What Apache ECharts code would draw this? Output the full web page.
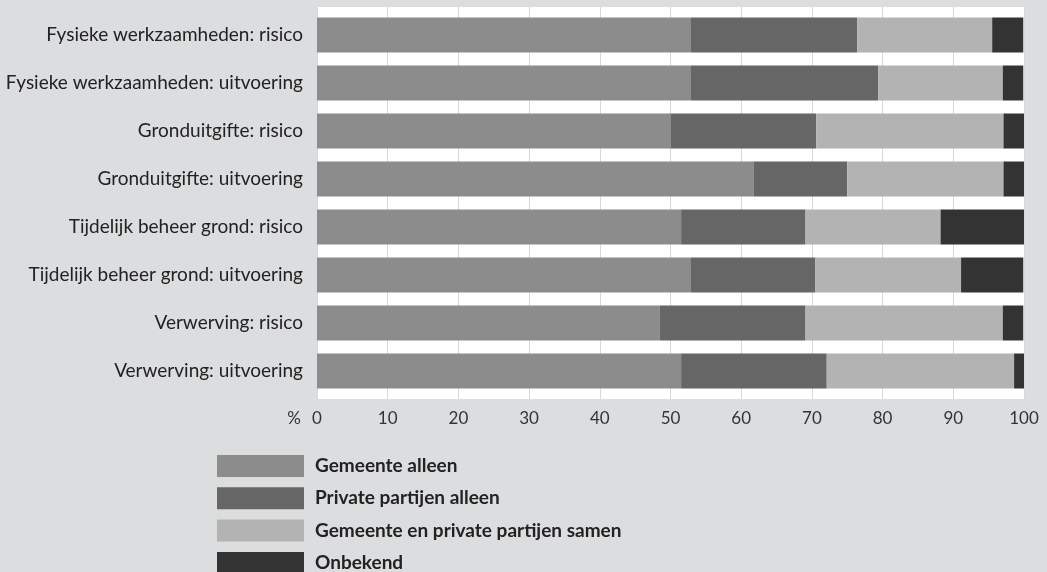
<!DOCTYPE html>
<html>
<head>
<meta charset="utf-8">
<style>
  html, body { margin: 0; padding: 0; background: #dcdddf; }
  #chart { width: 1047px; height: 572px; }
</style>
<script src="https://cdn.jsdelivr.net/npm/echarts@6/dist/echarts.min.js"></script>
</head>
<body>
<div id="chart"></div>
<script>
// Taken activities and who carries them out / bears the risk (percent of respondents)
const categories = [
  'Fysieke werkzaamheden: risico',
  'Fysieke werkzaamheden: uitvoering',
  'Gronduitgifte: risico',
  'Gronduitgifte: uitvoering',
  'Tijdelijk beheer grond: risico',
  'Tijdelijk beheer grond: uitvoering',
  'Verwerving: risico',
  'Verwerving: uitvoering'
];
const seriesNames = [
  'Gemeente alleen',
  'Private partijen alleen',
  'Gemeente en private partijen samen',
  'Onbekend'
];
const gemeenteAlleen   = [52.9, 52.9, 50.0, 61.8, 51.5, 52.9, 48.5, 51.5];
const privateAlleen    = [23.5, 26.5, 20.6, 13.2, 17.6, 17.6, 20.6, 20.6];
const samen            = [19.1, 17.6, 26.5, 22.1, 19.1, 20.6, 27.9, 26.5];
const onbekend         = [ 4.4,  2.9,  2.9,  2.9, 11.8,  8.8,  2.9,  1.5];
const xTicks = [0, 10, 20, 30, 40, 50, 60, 70, 80, 90, 100];

const colors = ['#8c8c8c', '#666666', '#b3b3b3', '#333333'];
const values = [gemeenteAlleen, privateAlleen, samen, onbekend];

const chart = echarts.init(document.getElementById('chart'), null, { renderer: 'canvas' });

chart.setOption({
  backgroundColor: '#dcdddf',
  animation: false,
  grid: [
    // white plot panel with the vertical gridlines and the percentage scale
    { left: 317, right: 23, top: 7, bottom: 173, show: true, backgroundColor: '#ffffff', borderWidth: 0, containLabel: false },
    // bars
    { left: 317, right: 23, top: 11, bottom: 177, show: false, containLabel: false }
  ],
  xAxis: [
    {
      gridIndex: 0, type: 'value', min: xTicks[0], max: xTicks[xTicks.length - 1], interval: 10,
      axisLine: { show: false }, axisTick: { show: false },
      splitLine: { show: true, lineStyle: { color: '#d8d8d8', width: 1 } },
      axisLabel: { show: true, margin: 11, color: '#333', fontSize: 17, fontFamily: 'Lato' },
      name: '%', nameLocation: 'start', nameGap: 16,
      nameTextStyle: { color: '#333', fontSize: 17, fontFamily: 'Lato', verticalAlign: 'top', padding: [11, 0, 0, 0] }
    },
    {
      gridIndex: 1, type: 'value', min: 0, max: 100, show: false
    }
  ],
  yAxis: [
    { gridIndex: 0, type: 'value', show: false },
    {
      gridIndex: 1, type: 'category', data: categories, inverse: true,
      axisLine: { show: false }, axisTick: { show: false }, splitLine: { show: false },
      axisLabel: { margin: 14, color: '#222', fontSize: 19, fontFamily: 'Lato' }
    }
  ],
  legend: {
    orient: 'vertical', left: 217, top: 455, height: 160, width: 500,
    padding: 0,
    itemWidth: 87, itemHeight: 22, itemGap: 10.3,
    icon: 'rect',
    data: seriesNames,
    textStyle: { color: '#222', fontSize: 19, fontWeight: 'bold', fontFamily: 'Lato', padding: [0, 0, 0, 6] }
  },
  series: seriesNames.map((name, i) => ({
    name: name,
    type: 'bar',
    stack: 'total',
    xAxisIndex: 1,
    yAxisIndex: 1,
    barWidth: 35,
    itemStyle: { color: colors[i] },
    data: values[i]
  }))
});
</script>
</body>
</html>
